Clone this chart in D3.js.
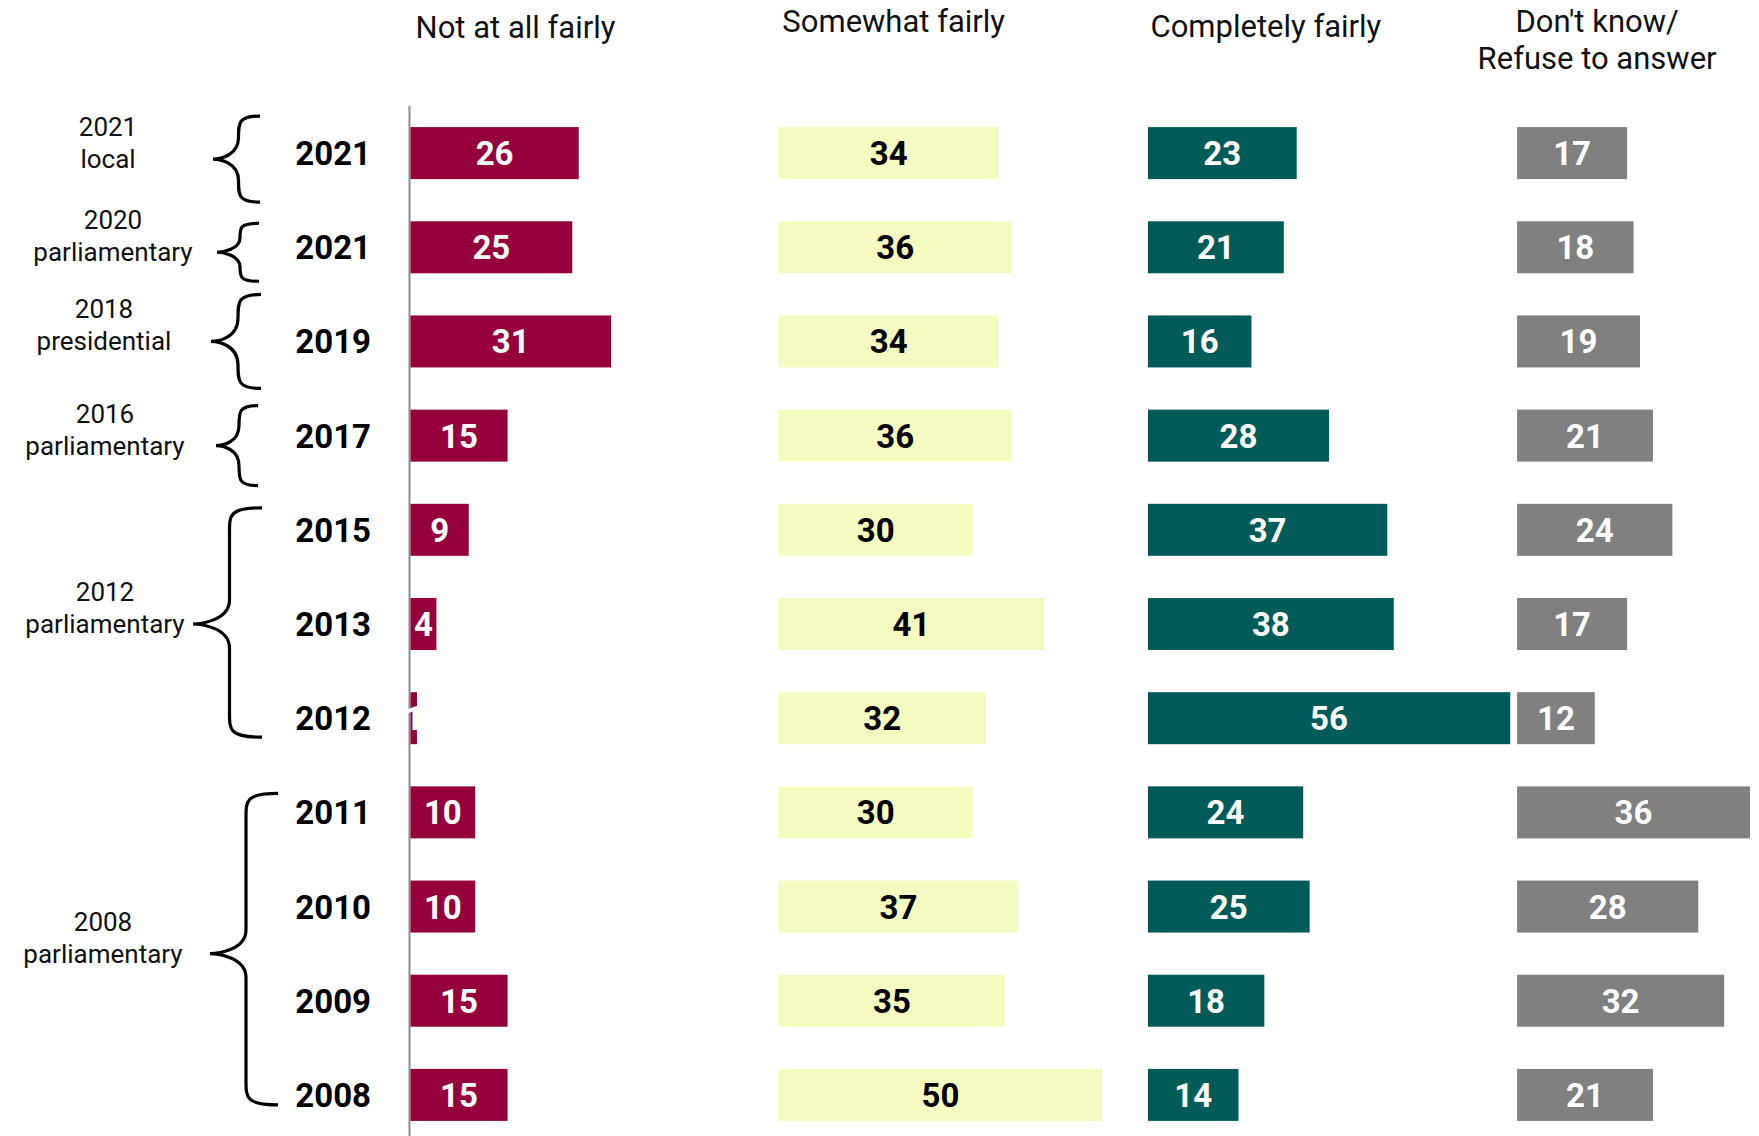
<!DOCTYPE html>
<html><head><meta charset="utf-8">
<script src="https://cdn.jsdelivr.net/npm/d3@7"></script>
<style>
html,body{margin:0;padding:0;background:#fff;}
svg text{font-family:Roboto,"Noto Sans",sans-serif;}
</style></head>
<body>
<svg id="c" width="1759" height="1136"></svg>
<script>
const years = ["2021","2021","2019","2017","2015","2013","2012","2011","2010","2009","2008"];
const notAtAll   = [26,25,31,15,9,4,1,10,10,15,15];
const somewhat   = [34,36,34,36,30,41,32,30,37,35,50];
const completely = [23,21,16,28,37,38,56,24,25,18,14];
const dontKnow   = [17,18,19,21,24,17,12,36,28,32,21];
const seriesNames = ["Not at all fairly","Somewhat fairly","Completely fairly","Don't know/\nRefuse to answer"];
const groupLine1 = ["2021","2020","2018","2016","2012","2008"];
const groupLine2 = ["local","parliamentary","presidential","parliamentary","parliamentary","parliamentary"];
const groupFirst = [0,1,2,3,4,7];
const groupLast  = [0,1,2,3,6,10];

const colors = ["#95003a","#f4fac0","#035b57","#808080"];
const labelColors = ["#fff","#000","#fff","#fff"];
const series = [notAtAll, somewhat, completely, dontKnow];

const svg = d3.select("#c");
const unit = 6.47;
const x = d3.scaleLinear().domain([0,1]).range([0,unit]);
const col = d3.scaleBand().domain(d3.range(4)).range([409.5, 409.5+4*369.2]);
const y = d3.scaleBand().domain(d3.range(years.length)).range([106, 1142]);
const barH = 52;
const cy = i => y(i) + y.bandwidth()/2;

// axis line
svg.append("line").attr("x1",409.5).attr("x2",409.5).attr("y1",106).attr("y2",1136)
  .attr("stroke","#8c8c8c").attr("stroke-width",2);

// bars
series.forEach((vals, s) => {
  const g = svg.append("g").attr("transform",`translate(${col(s)+ (s===0?1:0)},0)`);
  g.selectAll("rect").data(vals).join("rect")
    .attr("x",0).attr("y",(d,i)=>cy(i)-barH/2)
    .attr("width",d=>x(d)).attr("height",barH)
    .attr("fill",colors[s]);
  g.selectAll("text").data(vals).join("text")
    .attr("x",d=>x(d)/2).attr("y",(d,i)=>cy(i)+12)
    .attr("text-anchor","middle").attr("font-size",33).attr("font-weight",700)
    .attr("fill",labelColors[s]).text(d=>d);
});

// headers
const headerOffsets = [106,115,118,80];
const headerY = [38,32,37,32];
seriesNames.forEach((n,s)=>{
  const lines = n.split("\n");
  const t = svg.append("text").attr("text-anchor","middle").attr("font-size",31).attr("fill","#111")
    .attr("x",col(s)+headerOffsets[s]).attr("y",headerY[s]);
  lines.forEach((l,k)=>t.append("tspan").attr("x",col(s)+headerOffsets[s]).attr("dy",k===0?0:37).text(l));
});

// year labels
svg.selectAll("text.yr").data(years).join("text").attr("class","yr")
  .attr("x",371).attr("y",(d,i)=>cy(i)+12).attr("text-anchor","end")
  .attr("font-size",33).attr("font-weight",700).attr("fill","#000").text(d=>d);

// braces + group labels
function brace(xr, xt, y0, y1, ym){
  const xm = (xr + xt)/2 + 2;
  const r = Math.min(24, (y1-y0)/4);
  return `M${xr},${y0} C${xm},${y0} ${xm},${y0+r*0.3} ${xm},${y0+r}` +
         ` L${xm},${ym-r} C${xm},${ym-3} ${xt+6},${ym} ${xt},${ym}` +
         ` C${xt+6},${ym} ${xm},${ym+3} ${xm},${ym+r}` +
         ` L${xm},${y1-r} C${xm},${y1-r*0.3} ${xm},${y1} ${xr},${y1}`;
}
const tipOffset = [6,5,0,10,0,0];
const padTop = [43,29,47,40,22,19];
const padBot = [43,29,47,40,19,10];
const tipX = [213,217,211,216,193,210];
const rightX = [260,259,261,258,262,278];
const labelX = [108,113,104,105,105,103];
groupLine1.forEach((l1,gi)=>{
  const a = groupFirst[gi], b = groupLast[gi];
  const single = a===b;
  const ym = (single ? cy(a) : (cy(a)+cy(b))/2) + tipOffset[gi];
  const y0 = single ? ym - padTop[gi] : cy(a) - padTop[gi];
  const y1 = single ? ym + padBot[gi] : cy(b) + padBot[gi];
  svg.append("path").attr("d",brace(rightX[gi],tipX[gi],y0,y1,ym)).attr("fill","none")
    .attr("stroke","#000").attr("stroke-width",3.2);
  svg.append("text").attr("x",labelX[gi]).attr("y",ym-23).attr("text-anchor","middle")
    .attr("font-size",26).attr("fill","#111").text(l1);
  svg.append("text").attr("x",labelX[gi]).attr("y",ym+9).attr("text-anchor","middle")
    .attr("font-size",26).attr("fill","#111").text(groupLine2[gi]);
});
</script>
</body></html>
